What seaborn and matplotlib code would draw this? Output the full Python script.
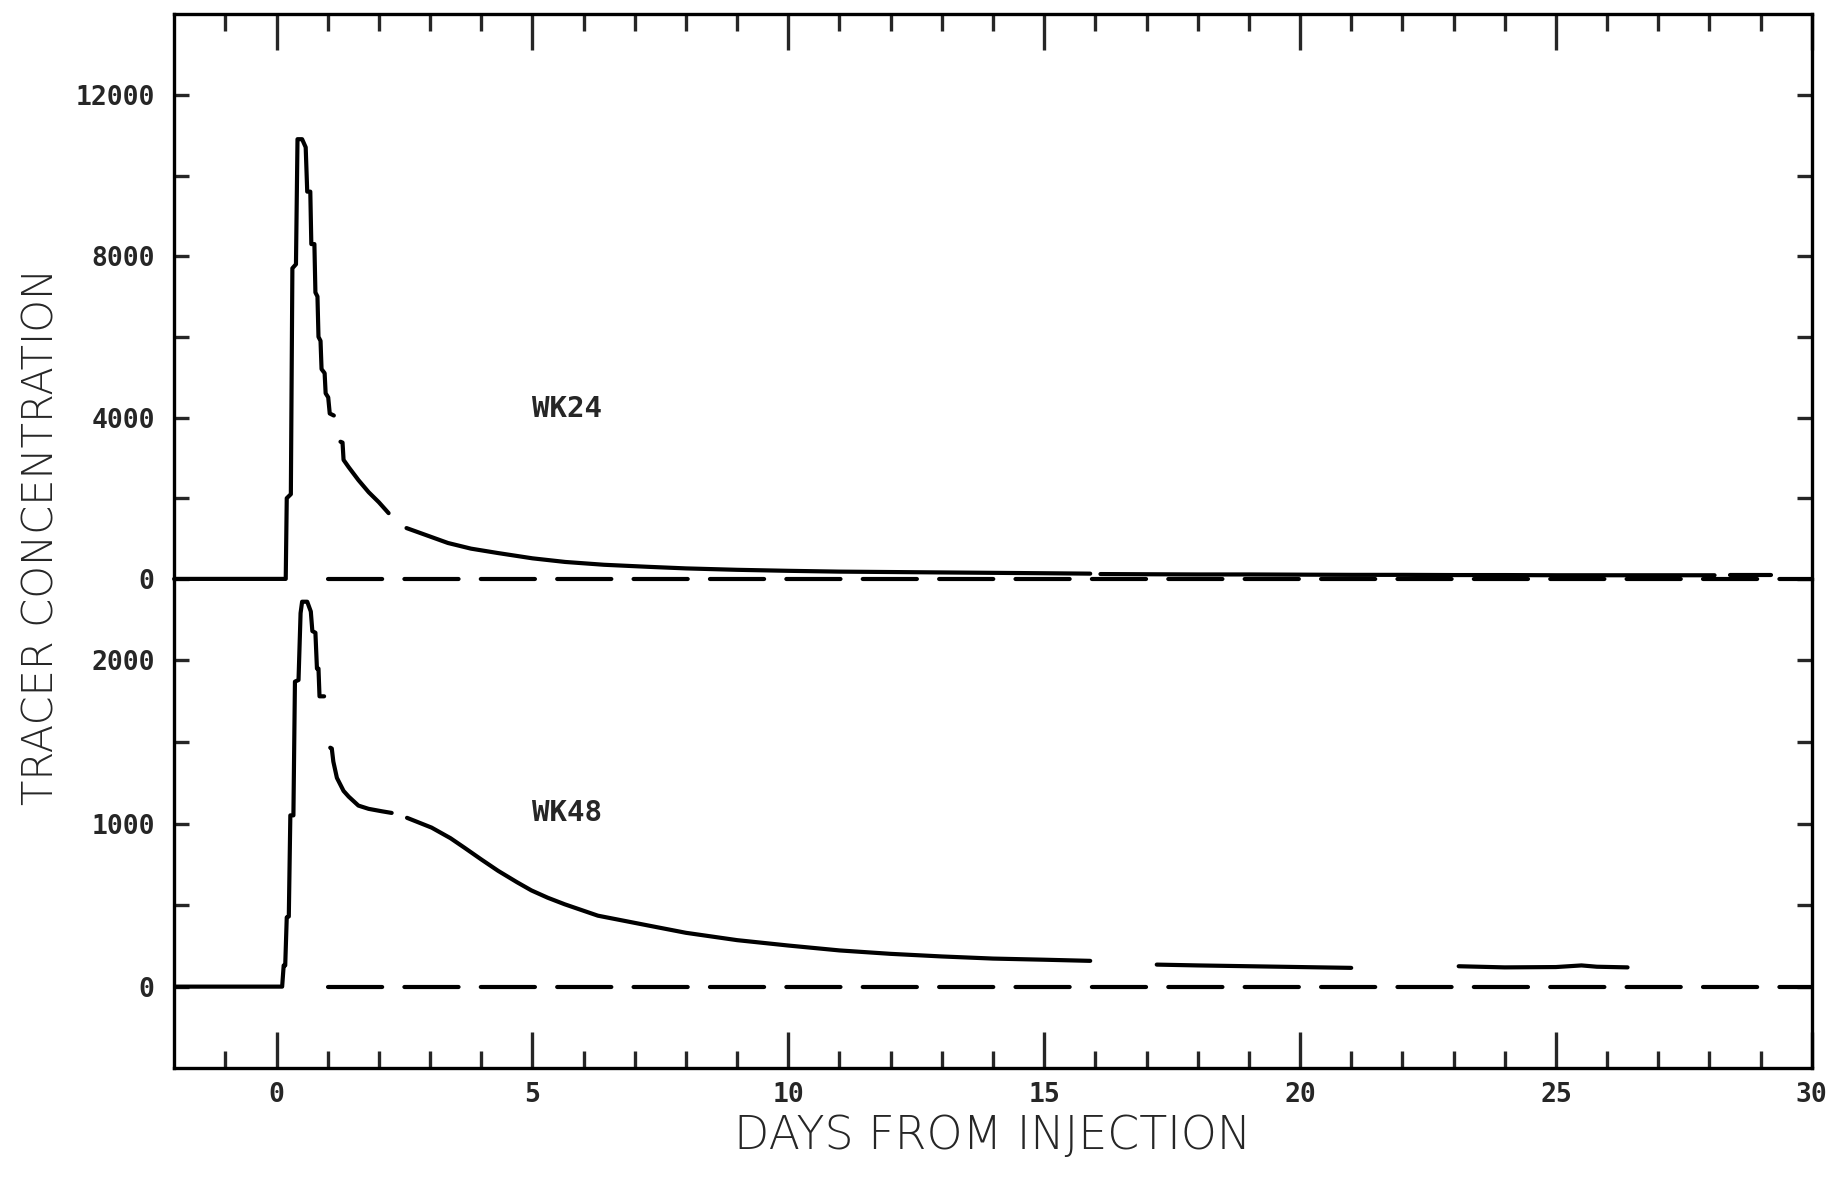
import numpy as np
import pandas as pd
import matplotlib
matplotlib.use("Agg")
import matplotlib.pyplot as plt
import seaborn as sns

# WK24 curve (days, concentration), split where the trace breaks
wk24_days = [
    [-2, 0.18, 0.2, 0.28, 0.31, 0.38, 0.41, 0.5, 0.57, 0.6, 0.66, 0.68, 0.74, 0.76, 0.8,
     0.82, 0.86, 0.88, 0.94, 0.96, 1.01, 1.04, 1.12],
    [1.25, 1.29, 1.31, 1.41, 1.6, 1.8, 2.0, 2.19],
    [2.54, 3.0, 3.35, 3.8, 4.33, 5.0, 5.64, 6.4, 7.25, 8, 9, 10, 11, 12, 13, 14, 15, 15.9],
    [16.1, 17, 18, 19, 20, 21, 22, 23, 24, 25, 26, 27, 28.1],
    [28.4, 29.2],
]
wk24_conc = [
    [0, 0, 2000, 2100, 7700, 7800, 10900, 10900, 10700, 9600, 9600, 8300, 8300, 7100, 7000,
     6000, 5900, 5200, 5100, 4600, 4500, 4100, 4050],
    [3400, 3380, 2950, 2770, 2450, 2150, 1900, 1630],
    [1260, 1050, 890, 750, 640, 510, 420, 350, 300, 260, 225, 200, 180, 170, 160, 150, 140, 130],
    [120, 115, 110, 110, 105, 100, 100, 95, 95, 90, 90, 90, 90],
    [85, 85],
]

# WK48 curve
wk48_days = [
    [-2, 0.11, 0.14, 0.17, 0.2, 0.24, 0.27, 0.33, 0.36, 0.43, 0.47, 0.5, 0.6, 0.67, 0.7,
     0.76, 0.79, 0.82, 0.84, 0.93],
    [1.05, 1.08, 1.11, 1.18, 1.31, 1.41, 1.6, 1.8, 2.06, 2.25],
    [2.55, 3.03, 3.4, 3.68, 4.0, 4.33, 4.7, 4.98, 5.3, 5.63, 6.28, 7.26, 8, 9, 10, 11, 12,
     13, 14, 15, 15.9],
    [17.2, 18, 19, 20, 21],
    [23.1, 24, 25, 25.5, 25.8, 26.4],
]
wk48_conc = [
    [0, 0, 130, 130, 425, 430, 1050, 1050, 1870, 1880, 2290, 2360, 2360, 2300, 2180,
     2170, 1950, 1950, 1780, 1780],
    [1465, 1460, 1380, 1280, 1200, 1165, 1110, 1090, 1075, 1065],
    [1035, 975, 910, 850, 780, 710, 640, 590, 545, 505, 435, 375, 330, 285, 252, 222, 201,
     185, 172, 165, 158],
    [135, 130, 125, 120, 115],
    [125, 118, 120, 130, 122, 118],
]


def to_frame(days, conc):
    rows = []
    for i, (d, c) in enumerate(zip(days, conc)):
        for x, y in zip(d, c):
            rows.append({"seg": i, "day": x, "conc": y})
    return pd.DataFrame(rows)


wk24 = to_frame(wk24_days, wk24_conc)
wk48 = to_frame(wk48_days, wk48_conc)

sns.set_style("white")
plt.rcParams["font.family"] = ["DejaVu Sans Mono", "DejaVu Sans"]
plt.rcParams["lines.scale_dashes"] = False

fig = plt.figure(figsize=(18.45, 11.79), dpi=100)
ax_top = fig.add_axes([0.0944, 0.509, 0.8876, 0.479])
ax_bot = fig.add_axes([0.0944, 0.094, 0.8876, 0.415])
# transparent backgrounds so the top panel's zero line isn't covered
ax_top.patch.set_facecolor("none")
ax_bot.patch.set_facecolor("none")

lw = 3.0
sns.lineplot(data=wk24, x="day", y="conc", units="seg", estimator=None, color="black",
             linewidth=lw, ax=ax_top, clip_on=False, legend=False)
sns.lineplot(data=wk48, x="day", y="conc", units="seg", estimator=None, color="black",
             linewidth=lw, ax=ax_bot, legend=False)

# dashed zero lines
for ax in (ax_top, ax_bot):
    ax.hlines(0, 1.0, 30, color="black", linewidth=lw, linestyles=(0, (39, 16)),
              capstyle="round", clip_on=False)

ax_top.text(5.67, 4200, "WK24", fontsize=21, fontweight="bold", ha="center", va="center")
ax_bot.text(5.67, 1065, "WK48", fontsize=21, fontweight="bold", ha="center", va="center")

ax_top.set_xlim(-2, 30)
ax_bot.set_xlim(-2, 30)
ax_top.set_ylim(0, 14000)
ax_bot.set_ylim(-500, 2500)

for ax in (ax_top, ax_bot):
    ax.set_xlabel("")
    ax.set_ylabel("")
    for s in ax.spines.values():
        s.set_linewidth(2.4)
        s.set_color("black")
    ax.set_xticks(np.arange(0, 31, 5))
    ax.set_xticks(np.arange(-1, 30, 1), minor=True)
    ax.tick_params(axis="x", which="major", direction="in", length=26, width=2.4)
    ax.tick_params(axis="x", which="minor", direction="in", length=12, width=2.4)
    ax.tick_params(axis="y", which="major", direction="in", length=11, width=2.4,
                   left=True, right=True, labelsize=19, pad=14)

ax_top.spines["bottom"].set_visible(False)
ax_bot.spines["top"].set_visible(False)

ax_top.tick_params(axis="x", which="both", top=True, bottom=False, labelbottom=False)
ax_bot.tick_params(axis="x", which="both", top=False, bottom=True, labelsize=19, pad=10)

ax_top.set_yticks(np.arange(0, 12001, 2000))
ax_top.set_yticklabels(["0", "", "4000", "", "8000", "", "12000"])
ax_bot.set_yticks(np.arange(0, 2001, 500))
ax_bot.set_yticklabels(["0", "", "1000", "", "2000"])

for lab in ax_top.get_yticklabels() + ax_bot.get_yticklabels() + ax_bot.get_xticklabels():
    lab.set_fontweight("bold")

fig.text(0.538, 0.018, "DAYS FROM INJECTION", fontsize=33, ha="center", va="bottom",
         family="DejaVu Sans", fontweight="light")
fig.text(0.022, 0.545, "TRACER CONCENTRATION", fontsize=30, rotation=90, ha="center",
         va="center", family="DejaVu Sans", fontweight="light")

fig.savefig("out.png", dpi=100)
